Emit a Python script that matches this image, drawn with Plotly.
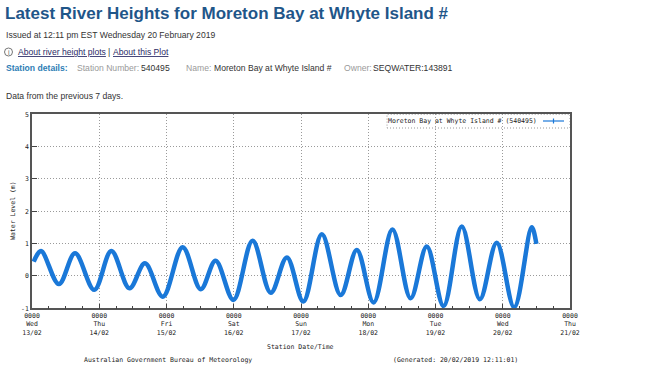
import plotly.graph_objects as go

# ---- data ----
times = [
    "2019-02-13 00:36", "2019-02-13 03:13", "2019-02-13 09:36", "2019-02-13 15:22", "2019-02-13 22:13",
    "2019-02-14 04:19", "2019-02-14 10:48", "2019-02-14 16:19", "2019-02-14 22:41",
    "2019-02-15 05:46", "2019-02-15 12:14", "2019-02-15 17:31", "2019-02-15 23:53",
    "2019-02-16 06:43", "2019-02-16 13:12", "2019-02-16 18:58",
    "2019-02-17 00:50", "2019-02-17 07:26", "2019-02-17 14:10", "2019-02-17 19:55",
    "2019-02-18 01:55", "2019-02-18 08:38", "2019-02-18 15:07", "2019-02-18 20:53",
    "2019-02-19 02:53", "2019-02-19 09:22", "2019-02-19 15:50", "2019-02-19 21:50",
    "2019-02-20 04:05", "2019-02-20 10:19", "2019-02-20 12:00",
]
levels = [
    0.44, 0.77, -0.25, 0.70, -0.43,
    0.77, -0.38, 0.39, -0.64,
    0.89, -0.41, 0.47, -0.74,
    1.09, -0.52, 0.57,
    -0.79, 1.29, -0.59, 0.80,
    -0.82, 1.44, -0.69, 0.91,
    -0.93, 1.53, -0.72, 1.03,
    -0.97, 1.51, 0.99,
]
day_ticks = ["2019-02-13", "2019-02-14", "2019-02-15", "2019-02-16", "2019-02-17",
             "2019-02-18", "2019-02-19", "2019-02-20", "2019-02-21"]
day_names = ["Wed", "Thu", "Fri", "Sat", "Sun", "Mon", "Tue", "Wed", "Thu"]
day_dates = ["13/02", "14/02", "15/02", "16/02", "17/02", "18/02", "19/02", "20/02", "21/02"]
y_ticks = [-1, 0, 1, 2, 3, 4, 5]
series_name = "Moreton Bay at Whyte Island # (540495)"

W, H = 649, 365


def px(x):
    return x / W


def py(y):
    return 1 - y / H


MONO = "DejaVu Sans Mono"
SANS = "Liberation Sans"
BLUE = "#1a78d8"
BODY = 8.6
GRID = dict(showgrid=True, gridcolor="#9a9a9a", griddash="1px,2px", gridwidth=1)

fig = go.Figure()
fig.add_trace(go.Scatter(
    x=times, y=levels, mode="lines", name=series_name,
    line=dict(color=BLUE, width=4.5, shape="spline", smoothing=1),
    showlegend=False, hoverinfo="skip",
))

ticktext = [f"0000<br>{n}<br>{d}" for n, d in zip(day_names, day_dates)]

fig.update_layout(
    width=W, height=H,
    margin=dict(l=0, r=0, t=0, b=0, pad=0),
    paper_bgcolor="white", plot_bgcolor="white",
    font=dict(family=MONO, size=6.5, color="#222"),
    xaxis=dict(
        domain=[px(32), px(570)],
        automargin=False,
        type="date",
        range=[day_ticks[0], day_ticks[-1]],
        tickmode="array", tickvals=day_ticks, ticktext=ticktext,
        ticks="inside", ticklen=5, tickcolor="#444",
        showline=True, linecolor="#555", linewidth=1.5, mirror=True,
        zeroline=False,
        tickfont=dict(family=MONO, size=6.5, color="#222"),
        minor=dict(dtick=6 * 3600 * 1000, ticks="inside", ticklen=3, tickcolor="#444", showgrid=False),
        **GRID,
    ),
    yaxis=dict(
        domain=[py(308.3), py(114.3)],
        automargin=False,
        range=[-1, 5],
        tickmode="array", tickvals=y_ticks, ticktext=[str(v) for v in y_ticks],
        ticks="inside", ticklen=5, tickcolor="#444",
        showline=True, linecolor="#555", linewidth=1.5, mirror=True,
        zeroline=False,
        tickfont=dict(family=MONO, size=6.5, color="#222"),
        **GRID,
    ),
)

ann = []


def text(x, y, s, size=BODY, color="#333", family=SANS, xanchor="left", yanchor="middle", angle=0):
    ann.append(dict(x=px(x), y=py(y), xref="paper", yref="paper", text=s, showarrow=False,
                    xanchor=xanchor, yanchor=yanchor, textangle=angle,
                    font=dict(family=family, size=size, color=color), borderpad=0))


# page header
text(4, 14, "<b>Latest River Heights for Moreton Bay at Whyte Island #</b>", size=17, color="#1f5689")
text(5, 35, "Issued at 12:11 pm EST Wednesday 20 February 2019")
text(8.6, 52.3, "i", size=7, color="#666", xanchor="center")
text(17, 52, "<u>About river height plots</u>", color="#2b2b66")
text(107, 52, "|", color="#333")
text(112, 52, "<u>About this Plot</u>", color="#2b2b66")
text(5, 68, "<b>Station details:</b>", color="#2e7db5")
text(76, 68, "Station Number:", color="#9a9a9a")
text(140, 68, "540495", color="#333")
text(185, 68, "Name:", color="#9a9a9a")
text(213, 68, "Moreton Bay at Whyte Island #", color="#333")
text(343, 68, "Owner:", color="#9a9a9a")
text(372, 68, "SEQWATER:143891", color="#333")
text(5, 96, "Data from the previous 7 days.")

# chart texts
text(13, 211, "Water Level (m)", size=6.5, color="#222", family=MONO, xanchor="center", angle=-90)
text(300, 347, "Station Date/Time", size=6.5, color="#222", family=MONO, xanchor="center")
text(83, 359.5, "Australian Government Bureau of Meteorology", size=6.5, color="#222", family=MONO)
text(392, 359.5, "(Generated: 20/02/2019 12:11:01)", size=6.5, color="#222", family=MONO)
text(538, 121, series_name, size=6.5, color="#222", family=MONO, xanchor="right")

fig.update_layout(annotations=ann)

shapes = [
    # info icon circle
    dict(type="circle", xref="paper", yref="paper", x0=px(4.5), x1=px(12.5), y0=py(56), y1=py(48),
         line=dict(color="#777", width=1)),
    # legend box (dotted)
    dict(type="rect", xref="paper", yref="paper", x0=px(387), x1=px(570), y0=py(128), y1=py(114.3),
         line=dict(color="#999", width=1, dash="1px,2px"), fillcolor="white", layer="below"),
    # legend sample line with '+' marker
    dict(type="line", xref="paper", yref="paper", x0=px(543), x1=px(564), y0=py(121), y1=py(121),
         line=dict(color=BLUE, width=1.2)),
    dict(type="line", xref="paper", yref="paper", x0=px(553.5), x1=px(553.5), y0=py(118.5), y1=py(123.5),
         line=dict(color=BLUE, width=1.2)),
]
fig.update_layout(shapes=shapes)

fig.write_html(
    "out.html",
    config={"displayModeBar": False},
    post_script="document.body.style.margin='0';document.documentElement.style.overflow='hidden';document.body.style.overflow='hidden';",
)
